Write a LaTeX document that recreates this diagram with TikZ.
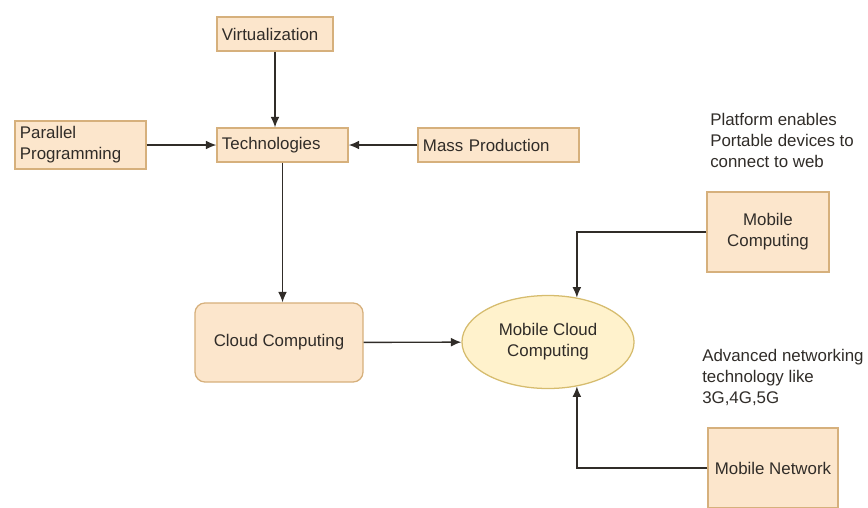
\documentclass[tikz,border=0pt]{standalone}
\usepackage{fontspec}
\setmainfont{Liberation Sans}
\usetikzlibrary{shapes.geometric,arrows.meta}
\definecolor{boxfill}{RGB}{252,230,204}
\definecolor{boxline}{RGB}{214,176,124}
\definecolor{ellfill}{RGB}{255,242,204}
\definecolor{ellline}{RGB}{214,188,110}
\definecolor{ink}{RGB}{48,44,40}
\begin{document}
\begin{tikzpicture}[>={Latex[length=2.6mm,width=2.2mm]}, x=0.025cm, y=-0.025cm,
	every node/.style={font=\fontsize{12}{15}\selectfont, text=ink},
	box/.style={draw=boxline, fill=boxfill, line width=0.9pt, inner sep=0pt},
	lbox/.style={box, text width=#1, align=left, inner xsep=0.125cm, minimum height=0.85cm},
	cbox/.style={box, align=center, minimum height=2cm},
	note/.style={align=left, inner sep=0pt, anchor=north west},
	link/.style={->, line width=1pt, draw=ink}]
	\useasboundingbox (0,0) rectangle (868,507);
	\node[lbox=2.65cm] (virt) at (275,34) {Virtualization};
	\node[lbox=3.025cm] (tech) at (282.5,145) {Technologies};
	\node[lbox=3.025cm, minimum height=1.2cm] (par) at (80.5,145) {Parallel\\Programming};
	\node[lbox=3.775cm] (mass) at (498.5,145) {Mass Production};
	\node[cbox, rounded corners=0.25cm, minimum width=4.2cm, minimum height=1.975cm] (cloud) at (279,342.5) {Cloud Computing};
	\node[ellipse, draw=ellline, fill=ellfill, line width=0.9pt, inner sep=0pt,
		minimum width=4.3cm, minimum height=2.325cm, align=center] (mcc) at (548,342) {Mobile Cloud\\Computing};
	\node[cbox, minimum width=3.05cm] (mobcomp) at (768,232) {Mobile\\Computing};
	\node[cbox, minimum width=3.25cm] (mobnet) at (773,468) {Mobile Network};
	\node[note] (platnote) at (710,113) {Platform enables\\Portable devices to\\connect to web};
	\node[note] (netnote) at (702,349) {Advanced networking\\technology like\\3G,4G,5G};
	\draw[link] (virt.south) -- (virt.south |- tech.north);
	\draw[link] (par) -- (tech);
	\draw[link] (mass) -- (tech);
	\draw[link] (tech.south) -- (tech.south |- cloud.north);
	\draw[link] (cloud) -- (mcc);
	\draw[link] (mobcomp.west) -| (mcc.57);
	\draw[link] (mobnet.west) -| (mcc.-57);
\end{tikzpicture}
\end{document}
